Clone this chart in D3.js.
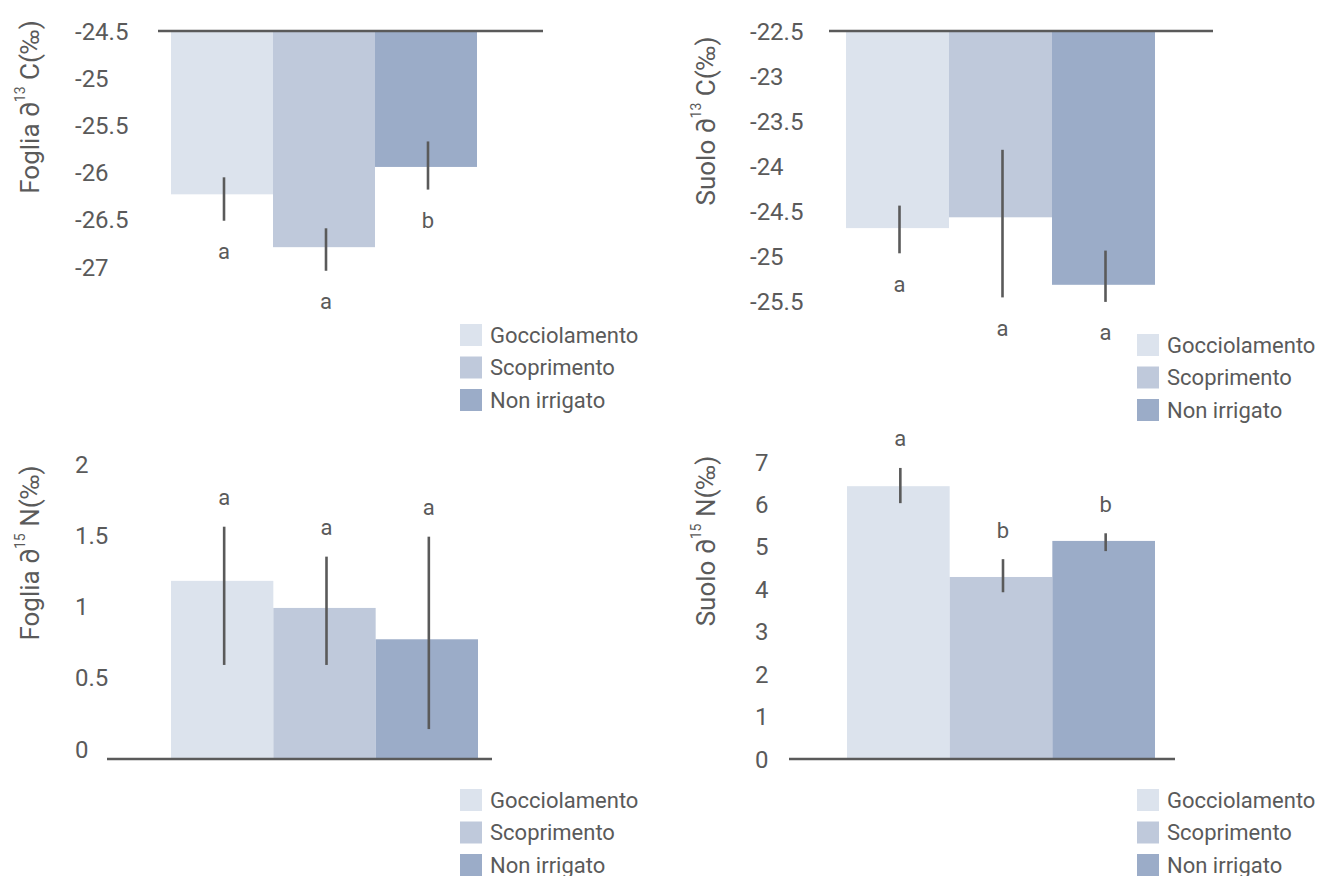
<!DOCTYPE html>
<html>
<head>
<meta charset="utf-8">
<script src="https://cdn.jsdelivr.net/npm/d3@7"></script>
<style>
  html, body { margin: 0; padding: 0; background: #fff; }
  svg { display: block; }
  text { font-family: Roboto, "Noto Sans", sans-serif; fill: #5a5a5a; }
</style>
</head>
<body>
<svg id="chart" width="1324" height="876"></svg>
<script>
// Treatments
const categories = ["Gocciolamento", "Scoprimento", "Non irrigato"];

// Foglia ∂13C (‰)
const fogliaC = [-26.23, -26.79, -25.94];
const fogliaCUpper = [-26.05, -26.59, -25.67];
const fogliaCLower = [-26.51, -27.04, -26.18];
const fogliaCLetters = ["a", "a", "b"];
const fogliaCTicks = [-24.5, -25, -25.5, -26, -26.5, -27];

// Suolo ∂13C (‰)
const suoloC = [-24.69, -24.57, -25.32];
const suoloCUpper = [-24.44, -23.82, -24.94];
const suoloCLower = [-24.97, -25.46, -25.51];
const suoloCLetters = ["a", "a", "a"];
const suoloCTicks = [-22.5, -23, -23.5, -24, -24.5, -25, -25.5];

// Foglia ∂15N (‰)
const fogliaN = [1.18, 0.99, 0.77];
const fogliaNUpper = [1.56, 1.35, 1.49];
const fogliaNLower = [0.59, 0.59, 0.14];
const fogliaNLetters = ["a", "a", "a"];
const fogliaNTicks = [0, 0.5, 1, 1.5, 2];

// Suolo ∂15N (‰)
const suoloN = [6.43, 4.29, 5.14];
const suoloNUpper = [6.86, 4.71, 5.32];
const suoloNLower = [6.03, 3.93, 4.90];
const suoloNLetters = ["a", "b", "b"];
const suoloNTicks = [0, 1, 2, 3, 4, 5, 6, 7];

// Styling
const fills = ["#dce3ed", "#bfc9db", "#9bacc8"];
const ink = "#5a5a5a";

// Panel layout: bars hang from the axis value (base) toward each mean
const panels = [
  {
    values: fogliaC, upper: fogliaCUpper, lower: fogliaCLower, letters: fogliaCLetters, ticks: fogliaCTicks,
    title: ["Foglia ∂", "13", " C(‰)"],
    domain: [-24.5, -27], range: [31, 267], base: -24.5, hanging: true,
    bandRange: [171, 477], axisX: [158, 543], labelX: 75,
    titleX: 30, titleY: 107, legendX: 460, legendY: 324
  },
  {
    values: suoloC, upper: suoloCUpper, lower: suoloCLower, letters: suoloCLetters, ticks: suoloCTicks,
    title: ["Suolo ∂", "13", " C(‰)"],
    domain: [-22.5, -25.5], range: [31, 301], base: -22.5, hanging: true,
    bandRange: [846, 1155], axisX: [829, 1213], labelX: 750,
    titleX: 706, titleY: 121, legendX: 1137, legendY: 334
  },
  {
    values: fogliaN, upper: fogliaNUpper, lower: fogliaNLower, letters: fogliaNLetters, ticks: fogliaNTicks,
    title: ["Foglia ∂", "15", " N(‰)"],
    domain: [-0.07, 2], range: [759, 464], base: -0.07, hanging: false,
    bandRange: [171, 478], axisX: [107, 492], labelX: 75,
    titleX: 30, titleY: 553, legendX: 460, legendY: 789
  },
  {
    values: suoloN, upper: suoloNUpper, lower: suoloNLower, letters: suoloNLetters, ticks: suoloNTicks,
    title: ["Suolo ∂", "15", " N(‰)"],
    domain: [0, 7], range: [759, 462], base: 0, hanging: false,
    bandRange: [847, 1155], axisX: [789, 1175], labelX: 755,
    titleX: 706, titleY: 541, legendX: 1137, legendY: 789
  }
];

const svg = d3.select("#chart");
svg.append("rect").attr("width", 1324).attr("height", 876).attr("fill", "#fff");

panels.forEach(p => {
  const g = svg.append("g");
  const y = d3.scaleLinear().domain(p.domain).range(p.range);
  const x = d3.scaleBand().domain(categories).range(p.bandRange).paddingInner(0).paddingOuter(0);
  const rows = categories.map((c, i) => ({
    cat: c, value: p.values[i], upper: p.upper[i], lower: p.lower[i], letter: p.letters[i], fill: fills[i]
  }));

  // bars
  g.selectAll("rect.bar").data(rows).join("rect")
    .attr("class", "bar")
    .attr("x", d => x(d.cat))
    .attr("width", x.bandwidth())
    .attr("y", d => Math.min(y(p.base), y(d.value)))
    .attr("height", d => Math.abs(y(d.value) - y(p.base)))
    .attr("fill", d => d.fill);

  // axis line at the base value
  g.append("line")
    .attr("x1", p.axisX[0]).attr("x2", p.axisX[1])
    .attr("y1", y(p.base)).attr("y2", y(p.base))
    .attr("stroke", ink).attr("stroke-width", 2.5);

  // error bars
  g.selectAll("line.err").data(rows).join("line")
    .attr("class", "err")
    .attr("x1", d => x(d.cat) + x.bandwidth() / 2 + 2)
    .attr("x2", d => x(d.cat) + x.bandwidth() / 2 + 2)
    .attr("y1", d => y(d.upper))
    .attr("y2", d => y(d.lower))
    .attr("stroke", ink).attr("stroke-width", 2.6);

  // significance letters
  g.selectAll("text.letter").data(rows).join("text")
    .attr("class", "letter")
    .attr("x", d => x(d.cat) + x.bandwidth() / 2 + 2)
    .attr("y", d => p.hanging ? y(d.lower) + 31 : y(d.upper) - 29)
    .attr("text-anchor", "middle")
    .attr("dominant-baseline", "central")
    .attr("font-size", 22)
    .text(d => d.letter);

  // y axis labels
  const axis = d3.axisLeft(y).tickValues(p.ticks).tickSize(0).tickFormat(d => String(d));
  const ag = g.append("g").attr("transform", `translate(${p.labelX},0)`).call(axis);
  ag.select(".domain").remove();
  ag.selectAll("text")
    .attr("x", 0).attr("dy", null)
    .attr("dominant-baseline", "central")
    .attr("text-anchor", "start")
    .attr("font-family", "Roboto, sans-serif")
    .attr("font-size", 24)
    .attr("fill", ink);

  // axis title
  const t = g.append("text")
    .attr("transform", `translate(${p.titleX},${p.titleY}) rotate(-90)`)
    .attr("text-anchor", "middle")
    .attr("dominant-baseline", "central")
    .attr("font-size", 26);
  t.append("tspan").text(p.title[0]);
  t.append("tspan").attr("font-size", 14).attr("dy", -10).text(p.title[1]);
  t.append("tspan").attr("dy", 10).text(p.title[2]);

  // legend
  const lg = g.append("g").attr("transform", `translate(${p.legendX},${p.legendY})`);
  const item = lg.selectAll("g").data(categories).join("g")
    .attr("transform", (d, i) => `translate(0,${i * 32.5})`);
  item.append("rect").attr("width", 22).attr("height", 22).attr("fill", (d, i) => fills[i]);
  item.append("text").attr("x", 30).attr("y", 11)
    .attr("dominant-baseline", "central")
    .attr("font-size", 22)
    .text(d => d);
});
</script>
</body>
</html>
